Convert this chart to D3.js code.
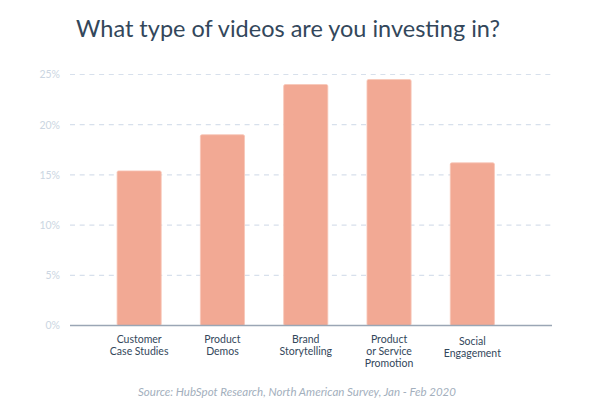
<!DOCTYPE html>
<html><head><meta charset="utf-8">
<script src="https://cdn.jsdelivr.net/npm/d3@7/dist/d3.min.js"></script>
<style>body{margin:0;background:#fff;}svg{display:block;}</style>
</head><body>
<svg id="c" width="600" height="400"></svg>
<script>
const categories = [["Customer","Case Studies"],["Product","Demos"],["Brand","Storytelling"],["Product","or Service","Promotion"],["Social","Engagement"]];
const values = [15.4, 19.0, 24.0, 24.5, 16.2];
const yTicks = [0, 5, 10, 15, 20, 25];
const title = "What type of videos are you investing in?";
const source = "Source: HubSpot Research, North American Survey, Jan - Feb 2020";

const svg = d3.select("#c");
const font = "Lato, 'Open Sans', sans-serif";
const x = d3.scaleBand().domain(d3.range(values.length)).range([97.5, 514]).paddingInner(0.47).paddingOuter(0.235);
const y = d3.scaleLinear().domain([0, 25]).range([325.5, 74.5]);

svg.append("text").attr("x", 288).attr("y", 37).attr("text-anchor", "middle")
  .attr("font-family", font).attr("font-size", 23.5).attr("fill", "#33475b").text(title);

const gy = svg.append("g").attr("transform", "translate(70,0)")
  .call(d3.axisLeft(y).tickValues(yTicks).tickSize(0).tickPadding(10).tickFormat(d => d + "%"));
gy.select(".domain").remove();
gy.selectAll("text").attr("font-family", font).attr("font-size", 10.5).attr("fill", "#cbd6e2");

svg.append("g").selectAll("line").data(yTicks.filter(d => d > 0)).join("line")
  .attr("x1", 70).attr("x2", 553).attr("y1", d => y(d)).attr("y2", d => y(d))
  .attr("stroke", "#d7e0ec").attr("stroke-width", 1.2).attr("stroke-dasharray", "5,4.7");

svg.append("g").selectAll("rect").data(values).join("rect")
  .attr("x", (d, i) => x(i)).attr("width", x.bandwidth())
  .attr("y", d => y(d)).attr("height", d => y(0) - y(d))
  .attr("rx", 1.5).attr("fill", "#f2a994").attr("stroke", "#f7c6b8").attr("stroke-width", 0.8);

svg.append("line").attr("x1", 70).attr("x2", 552).attr("y1", y(0)).attr("y2", y(0))
  .attr("stroke", "#9aa6b5").attr("stroke-width", 1.5);

const lab = svg.append("g").selectAll("text").data(categories).join("text")
  .attr("text-anchor", "middle").attr("font-family", font).attr("font-size", 10.5).attr("fill", "#33475b")
  .attr("transform", (d, i) => `translate(${x(i) + x.bandwidth() / 2},${d.length === 2 && i === 4 ? 345 : 343})`);
lab.selectAll("tspan").data(d => d).join("tspan").attr("x", 0).attr("dy", (d, j) => j === 0 ? 0 : 12).text(d => d);

svg.append("text").attr("x", 297).attr("y", 396).attr("text-anchor", "middle")
  .attr("font-family", font).attr("font-size", 11.5).attr("font-style", "italic").attr("fill", "#a3afbd").text(source);
</script>
</body></html>
